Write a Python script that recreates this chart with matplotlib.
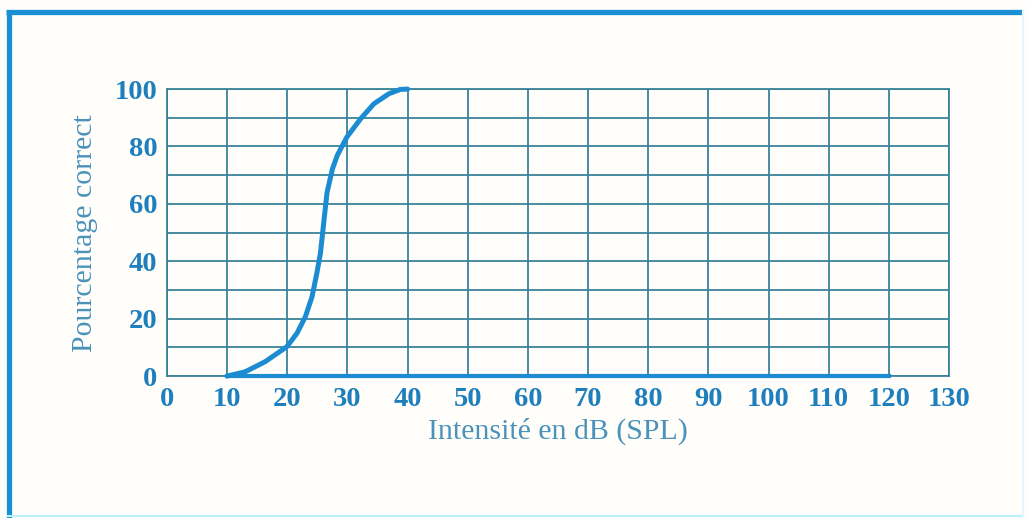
import numpy as np
from matplotlib import pyplot as plt
from matplotlib.lines import Line2D

# %% data
intensity_db = [10, 13, 16.3, 19.9, 21.6, 23, 24.1, 24.9, 25.5, 26.1, 26.6,
                27.5, 28.3, 29.9, 32.2, 34.4, 36.9, 38.8, 40]
percent_correct = [0, 1.5, 5, 10.2, 14.9, 20.7, 27.6, 35.8, 42.8, 54.4, 64,
                   72.2, 76.9, 83.3, 89.7, 94.9, 98.4, 99.9, 100]
floor_db = [10, 120]
floor_pct = [0, 0]

x_ticks = np.arange(0, 131, 10)
y_ticks = np.arange(0, 101, 20)
y_minor = np.arange(0, 101, 10)

curve_col = '#1b8bd2'
grid_col = '#3b8299'
tick_col = '#1f7fbd'
label_col = '#4a92ba'

# %% figure
fig = plt.figure(figsize=(10.26, 5.18), dpi=100, facecolor='#fffefb')
ax = fig.add_axes([0.1628, 0.274, 0.7622, 0.554])
ax.set_facecolor('#fffefb')

ax.plot(intensity_db, percent_correct, color=curve_col, lw=3.6,
        solid_capstyle='round', solid_joinstyle='round',
        clip_on=False, zorder=3)
ax.plot(floor_db, floor_pct, color=curve_col, lw=3, clip_on=False, zorder=3)

ax.set_xlim(0, 130)
ax.set_ylim(0, 100)
ax.set_xticks(x_ticks)
ax.set_yticks(y_ticks)
ax.set_yticks(y_minor, minor=True)
ax.grid(True, which='both', color=grid_col, lw=1.3)
ax.set_axisbelow(True)
for s in ax.spines.values():
    s.set_color(grid_col)
    s.set_linewidth(1.3)

ax.tick_params(which='both', length=0)
ax.tick_params(axis='x', pad=8)
ax.tick_params(axis='y', pad=7)
for lab in ax.get_xticklabels() + ax.get_yticklabels():
    lab.set_family('Liberation Serif')
    lab.set_fontweight('bold')
    lab.set_fontsize(20.5)
    lab.set_color(tick_col)

ax.set_xlabel('Intensité en dB (SPL)', family='Liberation Serif',
              fontsize=21.5, color=label_col, labelpad=4)
ax.set_ylabel('Pourcentage correct', family='Liberation Serif',
              fontsize=21.5, color=label_col, labelpad=12)

# %% frame around the picture
W, H = 1026, 518
fig.add_artist(Line2D([6 / W, 1023 / W], [1 - 11.5 / H, 1 - 11.5 / H],
                      color='#1a8fd4', lw=3.8, solid_capstyle='butt'))
fig.add_artist(Line2D([8.5 / W, 8.5 / W], [0, 1 - 9.5 / H],
                      color='#1a8fd4', lw=3.8, solid_capstyle='butt'))
fig.add_artist(Line2D([8 / W, 1023 / W], [2.5 / H, 2.5 / H],
                      color='#bdeefc', lw=1.5))
fig.add_artist(Line2D([1023 / W, 1023 / W], [0, 1 - 10 / H],
                      color='#e4f6fb', lw=1.5))

fig.savefig('out.png', dpi=100, facecolor=fig.get_facecolor())
